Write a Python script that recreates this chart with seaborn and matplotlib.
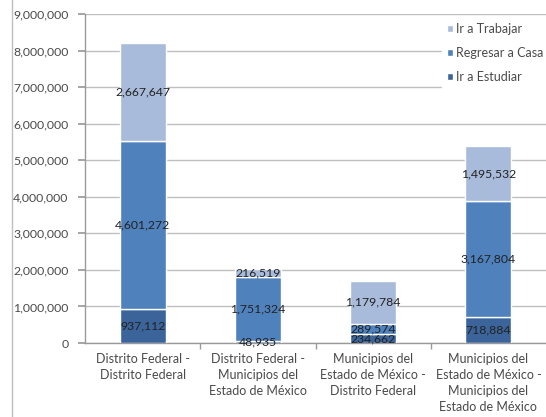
import matplotlib
matplotlib.use("Agg")
import matplotlib.pyplot as plt
import seaborn as sns
import pandas as pd
import numpy as np
from matplotlib.ticker import FuncFormatter
from matplotlib.lines import Line2D

categories = ["Distrito Federal -\nDistrito Federal",
              "Distrito Federal -\nMunicipios del\nEstado de México",
              "Municipios del\nEstado de México -\nDistrito Federal",
              "Municipios del\nEstado de México -\nMunicipios del\nEstado de México"]
estudiar = [937112, 48935, 234662, 718884]
casa = [4601272, 1751324, 289574, 3167804]
trabajar = [2667647, 216519, 1179784, 1495532]
series_names = ["Ir a Estudiar", "Regresar a Casa", "Ir a Trabajar"]
colors = ["#3B659A", "#4F81BD", "#A9BBDB"]

sns.set_theme(style="white")
plt.rcParams['font.family'] = ['Lato', 'DejaVu Sans']

fig = plt.figure(figsize=(5.46, 4.17), dpi=100)
ax = fig.add_axes([85/546, 1 - 343/417, (546-85)/546, (343-14)/417])

rows = []
for i, c in enumerate(categories):
    rows.append((c, series_names[0], estudiar[i]))
    rows.append((c, series_names[1], casa[i]))
    rows.append((c, series_names[2], trabajar[i]))
df = pd.DataFrame(rows, columns=["cat", "serie", "val"])

bottom = np.zeros(len(categories))
for name, col in zip(series_names, colors):
    sub = df[df.serie == name].set_index("cat").loc[categories]
    vals = sub["val"].values
    ax.bar(np.arange(len(categories)), vals, bottom=bottom, width=0.4,
           color=col, label=name, zorder=3)
    for j, (b, v) in enumerate(zip(bottom, vals)):
        ax.text(j, b + v / 2, f"{v:,}", ha="center", va="center", fontsize=8.8,
                color="#222222", zorder=4)
    bottom = bottom + vals

ax.set_ylim(0, 9000000)
ax.set_xlim(-0.5, 3.5)
ax.set_yticks(np.arange(0, 9000001, 1000000))
ax.yaxis.set_major_formatter(FuncFormatter(lambda v, p: f"{int(v):,}"))
ax.grid(axis="y", color="#BFBFBF", linewidth=1, zorder=0)
ax.set_xticks(np.arange(len(categories)))
ax.set_xticklabels(categories, fontsize=9, color="#4a4a4a", linespacing=1.4)
ax.tick_params(axis="y", labelsize=8.8, labelcolor="#4a4a4a", length=5, color="#9a9a9a",
               left=True, pad=7)
ax.tick_params(axis="x", length=0, pad=7)
ax.set_xticks([0.5, 1.5, 2.5], minor=True)
ax.tick_params(axis="x", which="minor", length=4, color="#9a9a9a", bottom=True)
for s in ["top", "right"]:
    ax.spines[s].set_visible(False)
for s in ["left", "bottom"]:
    ax.spines[s].set_color("#9a9a9a")
    ax.spines[s].set_linewidth(1)

h, l = ax.get_legend_handles_labels()
leg = ax.legend(h[::-1], l[::-1], loc="upper right", bbox_to_anchor=(1.01, 0.995),
                frameon=True, fontsize=9, handlelength=0.45, handleheight=0.45,
                handletextpad=0.25, labelspacing=0.95, borderaxespad=0.2,
                fancybox=False, edgecolor="white", facecolor="white", framealpha=1)
leg.set_zorder(5)
for t in leg.get_texts():
    t.set_color("#4a4a4a")

fig.add_artist(Line2D([12/546, 12/546], [0, 1], color="#BFBFBF", linewidth=1))

fig.savefig("out.png", dpi=100)
